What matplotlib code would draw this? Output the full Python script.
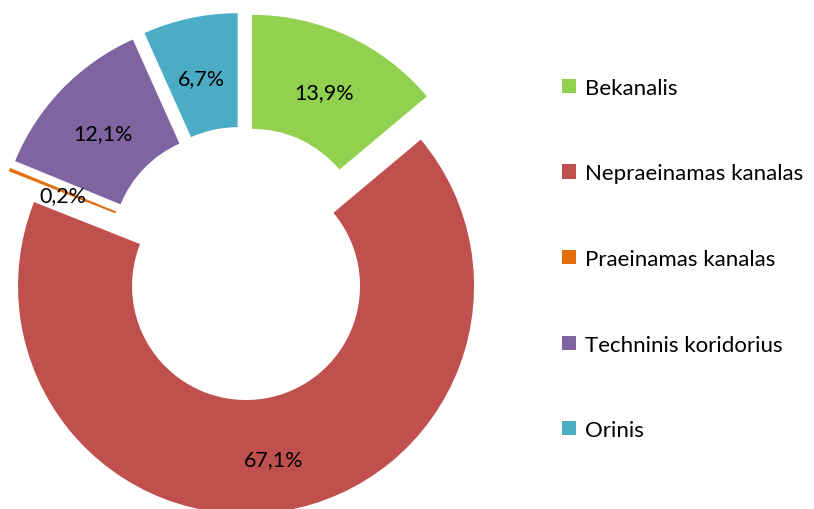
import matplotlib.pyplot as plt
from matplotlib.patches import Patch

# Duomenys
categories = ['Bekanalis', 'Nepraeinamas kanalas', 'Praeinamas kanalas',
              'Techninis koridorius', 'Orinis']
shares = [13.9, 67.1, 0.2, 12.1, 6.7]
colors = ['#92D050', '#C0504D', '#E46C0A', '#8064A2', '#4BACC6']

plt.rcParams['font.family'] = ['Lato', 'DejaVu Sans']

W, H = 814, 510
fig = plt.figure(figsize=(W / 100, H / 100), dpi=100)
ax = fig.add_axes([0, 0, 1, 1])

R = 228
# matplotlib explode - absoliutiniais vienetais
wedges, _, pct_texts = ax.pie(
    shares,
    colors=colors,
    startangle=90,
    counterclock=False,
    explode=[0.1 * R] * len(shares),
    radius=R,
    center=(242.4, H - 264.5),
    autopct=lambda p: f'{p:.1f}%'.replace('.', ','),
    pctdistance=0.75,
    wedgeprops=dict(width=R * 0.5, linewidth=0),
    textprops=dict(fontsize=15.5, color='black'),
)
# plonas oranžinis sektorius - kad būtų matomas
wedges[2].set_edgecolor(colors[2])
wedges[2].set_linewidth(0.4)

# etiketės šiek tiek žemiau, kaip Excel
for t in pct_texts:
    x, y = t.get_position()
    t.set_position((x, y - 4))

ax.set_xlim(0, W)
ax.set_ylim(0, H)
ax.set_aspect('equal')
ax.axis('off')

handles = [Patch(facecolor=c, edgecolor='none') for c in colors]
fig.legend(handles, categories, loc='center left',
           bbox_to_anchor=(562 / W, 1 - 260 / H),
           frameon=False, fontsize=16, labelspacing=2.95,
           handlelength=0.62, handleheight=0.62, handletextpad=0.42,
           borderpad=0, borderaxespad=0)

fig.savefig('out.png', dpi=100)
